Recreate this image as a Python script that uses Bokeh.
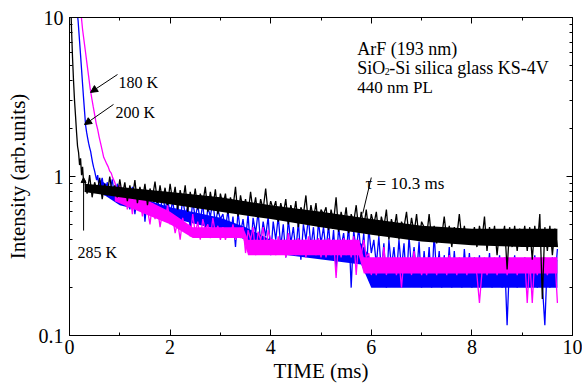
import numpy as np
from bokeh.plotting import figure
from bokeh.models import FixedTicker, LinearAxis, LogAxis, Label, Arrow, NormalHead
from bokeh.embed import file_html
from bokeh.resources import INLINE

# ---------------- data ----------------
STEP = 0.05  # sampling step of the tails (ms)

# 285 K (black)
t_285_early = [0.00, 0.02, 0.04, 0.06, 0.08, 0.10, 0.12, 0.14, 0.16, 0.18, 0.20, 0.22, 0.24, 0.26, 0.28]
i_285_early = [25.0, 14.0, 8.5, 5.6, 4.0, 3.0, 2.4, 1.9, 1.55, 1.42, 1.18, 1.30, 1.02, 1.15, 0.92]
t_285_tail_start = 0.30
i_285_tail = [
    0.95, 0.78, 1.02, 0.74, 0.92, 0.80, 0.98, 0.72, 0.90, 0.76, 1.00, 0.78, 0.88, 0.74, 0.96,
    0.76, 0.92, 0.70, 0.88, 0.74, 0.95, 0.68, 0.86, 0.72, 0.90, 0.66, 0.84, 0.74, 0.93, 0.68, 0.88, 0.70, 0.85, 0.66, 0.90,
    0.70, 0.86, 0.62, 0.82, 0.68, 0.88, 0.60, 0.80, 0.66, 0.84, 0.62, 0.78, 0.68, 0.86, 0.60, 0.80, 0.64, 0.83, 0.58, 0.78,
    0.66, 0.78, 0.58, 0.74, 0.64, 0.86, 0.56, 0.76, 0.62, 0.72, 0.58, 0.80, 0.60, 0.74, 0.55, 0.72, 0.62, 0.84, 0.58, 0.70,
    0.62, 0.70, 0.52, 0.68, 0.58, 0.72, 0.50, 0.66, 0.56, 0.70, 0.48, 0.64, 0.58, 0.76, 0.50, 0.66, 0.54, 0.68, 0.48, 0.62,
    0.58, 0.64, 0.46, 0.62, 0.52, 0.74, 0.45, 0.60, 0.50, 0.64, 0.44, 0.58, 0.52, 0.66, 0.46, 0.60, 0.48, 0.62, 0.44, 0.58,
    0.50, 0.60, 0.42, 0.56, 0.48, 0.62, 0.40, 0.54, 0.46, 0.58, 0.40, 0.52, 0.48, 0.60, 0.42, 0.55, 0.44, 0.58, 0.40, 0.52,
    0.48, 0.42, 0.58, 0.40, 0.49, 0.38, 0.48, 0.42, 0.56, 0.40, 0.49, 0.36, 0.48, 0.42, 0.58, 0.40, 0.49, 0.38, 0.46, 0.40,
    0.48, 0.36, 0.49, 0.40, 0.56, 0.34, 0.48, 0.38, 0.49, 0.32, 0.46, 0.40, 0.49, 0.26, 0.48, 0.36, 0.49, 0.34, 0.47, 0.38,
    0.49, 0.34, 0.48, 0.30, 0.49, 0.36, 0.58, 0.17, 0.48, 0.34, 0.49, 0.32, 0.47, 0.36,
]
# solid core of the 285 K trace
band_285_t = [0.3, 1.0, 2.0, 3.0, 4.0, 5.0, 6.0, 7.0, 8.0, 9.0, 9.7]
band_285_lo = [0.80, 0.74, 0.67, 0.60, 0.54, 0.48, 0.43, 0.39, 0.37, 0.36, 0.36]
band_285_hi = [0.90, 0.86, 0.80, 0.74, 0.66, 0.60, 0.54, 0.49, 0.47, 0.47, 0.47]

# 200 K (blue)
t_200_early = [0.15, 0.17, 0.20, 0.22, 0.24, 0.26, 0.28, 0.30, 0.32, 0.34, 0.36, 0.38, 0.40, 0.42, 0.44,
               0.46, 0.48, 0.50, 0.52, 0.54, 0.56, 0.58]
i_200_early = [11.0, 9.6, 7.1, 5.8, 4.7, 3.8, 3.1, 2.55, 2.1, 1.9, 1.75, 1.62, 1.52, 1.44, 1.32,
               1.22, 1.14, 1.08, 1.01, 0.95, 1.02, 0.90]
t_200_tail_start = 0.60
i_200_tail = [
    0.86, 0.98, 0.76, 0.92, 0.80, 0.96, 0.72, 0.90, 0.78,
    0.84, 0.66, 0.80, 0.62, 0.86, 0.58, 0.78, 0.64, 0.82, 0.52, 0.76, 0.62, 0.80, 0.60, 0.74, 0.56, 0.78, 0.62, 0.72, 0.58,
    0.70, 0.56, 0.66, 0.52, 0.72, 0.58, 0.64, 0.48, 0.70, 0.55, 0.66, 0.52, 0.68, 0.44, 0.64, 0.56, 0.70, 0.50, 0.62, 0.54,
    0.58, 0.46, 0.62, 0.42, 0.56, 0.36, 0.60, 0.44, 0.54, 0.40, 0.58, 0.34, 0.55, 0.44, 0.60, 0.38, 0.52, 0.42, 0.56, 0.32,
    0.52, 0.40, 0.56, 0.36, 0.50, 0.31, 0.54, 0.38, 0.48, 0.34, 0.52, 0.30, 0.50, 0.40, 0.55, 0.36, 0.48, 0.31, 0.52, 0.38,
    0.48, 0.34, 0.50, 0.31, 0.46, 0.26, 0.48, 0.36, 0.44, 0.32, 0.50, 0.20, 0.46, 0.34, 0.48, 0.31, 0.44, 0.25, 0.47, 0.33,
    0.40, 0.28, 0.42, 0.25, 0.38, 0.20, 0.40, 0.27, 0.36, 0.24, 0.40, 0.26, 0.38, 0.21, 0.42, 0.26, 0.36, 0.24, 0.39, 0.20,
    0.34, 0.22, 0.36, 0.20, 0.44, 0.23, 0.34, 0.20, 0.32, 0.22, 0.36, 0.20, 0.34, 0.21, 0.30, 0.20, 0.35, 0.22, 0.33, 0.20,
    0.31, 0.21, 0.32, 0.20, 0.30, 0.22, 0.33, 0.20, 0.30, 0.21, 0.32, 0.20, 0.31, 0.116, 0.30, 0.21, 0.32, 0.20, 0.30, 0.22,
    0.31, 0.20, 0.30, 0.21, 0.32, 0.20, 0.30, 0.21, 0.116, 0.30, 0.20, 0.31, 0.22, 0.35,
]
band_200_t = [0.6, 1.0, 2.0, 3.0, 3.5, 4.0, 5.8, 6.0, 9.7]
band_200_lo = [0.80, 0.66, 0.55, 0.46, 0.40, 0.33, 0.28, 0.20, 0.20]
band_200_hi = [0.95, 0.80, 0.64, 0.55, 0.48, 0.40, 0.38, 0.30, 0.30]

# 180 K (magenta)
t_180_early = [0.23, 0.26, 0.29, 0.32, 0.35, 0.38, 0.41, 0.44, 0.47, 0.50, 0.53, 0.56, 0.59, 0.62,
               0.65, 0.68, 0.71, 0.74, 0.77, 0.80, 0.83, 0.86]
i_180_early = [10.5, 8.4, 7.1, 6.0, 5.05, 4.27, 3.6, 3.14, 2.77, 2.45, 2.16, 1.98, 1.77, 1.61,
               1.46, 1.32, 1.26, 1.20, 1.15, 1.08, 1.05, 0.98]
t_180_tail_start = 0.90
i_180_tail = [
    0.92, 0.80, 0.88,
    0.72, 0.84, 0.62, 0.78, 0.58, 0.80, 0.64, 0.74, 0.56, 0.76,
    0.62, 0.50, 0.68, 0.54, 0.64, 0.48, 0.60, 0.52, 0.66, 0.50,
    0.56, 0.44, 0.52, 0.40, 0.55, 0.46, 0.50, 0.42, 0.58, 0.44, 0.52, 0.40, 0.54, 0.46, 0.50, 0.41, 0.55, 0.44, 0.49, 0.40,
    0.48, 0.40, 0.46, 0.42, 0.50, 0.40, 0.47, 0.41, 0.48, 0.33, 0.46, 0.40, 0.48, 0.32, 0.45, 0.40, 0.48, 0.33, 0.46, 0.40,
    0.40, 0.32, 0.42, 0.34, 0.40, 0.31, 0.44, 0.33, 0.40, 0.32, 0.41, 0.34, 0.40, 0.31, 0.42, 0.33, 0.40, 0.32, 0.41, 0.31,
    0.40, 0.31, 0.41, 0.32, 0.40, 0.23, 0.40, 0.31, 0.41, 0.32, 0.40, 0.31, 0.42, 0.24, 0.40, 0.32, 0.40, 0.31, 0.33, 0.24,
    0.30, 0.24, 0.31, 0.25, 0.36, 0.24, 0.30, 0.25, 0.31, 0.24, 0.30, 0.20, 0.31, 0.25, 0.30, 0.24, 0.34, 0.25, 0.31, 0.24,
    0.30, 0.24, 0.31, 0.25, 0.30, 0.24, 0.31, 0.26, 0.30, 0.24, 0.32, 0.25, 0.30, 0.24, 0.31, 0.25, 0.30, 0.24, 0.31, 0.25,
    0.30, 0.24, 0.16, 0.25, 0.31, 0.24, 0.30, 0.25, 0.31, 0.24, 0.30, 0.26, 0.31, 0.24, 0.30, 0.25, 0.31, 0.24, 0.30, 0.25,
    0.31, 0.16, 0.30, 0.16, 0.31, 0.24, 0.30, 0.25, 0.31, 0.24, 0.30, 0.25, 0.31, 0.16,
]
band_180_t = [0.9, 1.5, 2.0, 2.45, 3.45, 3.55, 5.75, 5.85, 9.7]
band_180_lo = [0.70, 0.58, 0.50, 0.41, 0.41, 0.32, 0.32, 0.245, 0.245]
band_180_hi = [0.85, 0.72, 0.60, 0.48, 0.48, 0.40, 0.40, 0.31, 0.31]

x_major = [0, 2, 4, 6, 8, 10]
x_minor = [1, 3, 5, 7, 9]
y_major = [0.1, 1, 10]
y_minor = [0.2, 0.3, 0.4, 0.5, 0.6, 0.7, 0.8, 0.9, 2, 3, 4, 5, 6, 7, 8, 9]
y_labels = {0.1: "0.1", 1: "1", 10: "10"}


def tail_times(start, tail):
    return [round(start + STEP * k, 4) for k in range(len(tail))]


FONT = "Liberation Serif"

p = figure(width=582, height=390, x_range=(0, 10), y_range=(0.1, 10), y_axis_type="log",
           output_backend="svg", toolbar_location=None,
           min_border_left=69, min_border_top=17, min_border_right=10, min_border_bottom=55,
           background_fill_color="white", border_fill_color="white")
p.grid.visible = False
p.outline_line_color = "black"
p.outline_line_width = 1

curves = [
    (t_200_early, i_200_early, t_200_tail_start, i_200_tail, band_200_t, band_200_lo, band_200_hi, "#0000ff"),
    (t_180_early, i_180_early, t_180_tail_start, i_180_tail, band_180_t, band_180_lo, band_180_hi, "#ff00ff"),
    (t_285_early, i_285_early, t_285_tail_start, i_285_tail, band_285_t, band_285_lo, band_285_hi, "#000000"),
]
for te, ie, ts, it, bt, blo, bhi, col in curves:
    tt = tail_times(ts, it)
    p.varea(x=bt, y1=blo, y2=bhi, fill_color=col)
    p.line(list(te) + tt, list(ie) + it, line_color=col, line_width=1.3)


def style_ticks(ax):
    ax.axis_line_color = "black"
    ax.axis_line_width = 1
    ax.major_tick_in = 6
    ax.major_tick_out = 0
    ax.minor_tick_in = 3
    ax.minor_tick_out = 0
    ax.major_tick_line_color = "black"
    ax.minor_tick_line_color = "black"


def style_labels(ax):
    ax.major_label_text_font = FONT
    ax.major_label_text_color = "black"
    ax.major_label_text_font_size = "20px"
    ax.axis_label_text_font = FONT
    ax.axis_label_text_font_style = "normal"
    ax.axis_label_text_font_size = "21px"
    ax.axis_label_text_color = "black"


bx = p.xaxis[0]
bx.ticker = FixedTicker(ticks=x_major, minor_ticks=x_minor)
style_ticks(bx)
style_labels(bx)
bx.axis_label = "TIME (ms)"
bx.major_label_standoff = 4
bx.axis_label_standoff = 2

ly = p.yaxis[0]
ly.ticker = FixedTicker(ticks=y_major, minor_ticks=y_minor)
style_ticks(ly)
style_labels(ly)
ly.major_label_overrides = y_labels
ly.axis_label = "Intensity (arb.units)"
ly.major_label_standoff = 6
ly.axis_label_standoff = 6

tx = LinearAxis(ticker=FixedTicker(ticks=x_major, minor_ticks=x_minor))
style_ticks(tx)
tx.major_label_text_font_size = "1px"
tx.major_label_text_alpha = 0
tx.major_label_standoff = 0
tx.major_label_overrides = {v: " " for v in x_major}
p.add_layout(tx, "above")

ry = LogAxis(ticker=FixedTicker(ticks=y_major, minor_ticks=y_minor))
style_ticks(ry)
ry.major_label_text_font_size = "1px"
ry.major_label_text_alpha = 0
ry.major_label_standoff = 0
ry.major_label_overrides = {v: " " for v in y_major}
p.add_layout(ry, "right")


def label(x, y, text, size, dx=0, dy=0):
    p.add_layout(Label(x=x, y=y, text=text, x_offset=dx, y_offset=dy,
                       text_font=FONT, text_font_size=size, text_color="black",
                       text_align="left", text_baseline="alphabetic"))


label(0.974, 3.90, "180 K", "16px")
label(0.915, 2.53, "200 K", "16px")
label(0.16, 0.333, "285 K", "16px")
label(5.72, 6.38, "ArF (193 nm)", "18px")
label(5.72, 4.78, "SiO", "18px")
label(5.72, 4.78, "2", "10px", dx=27.5, dy=-3.5)
label(5.72, 4.78, "-Si silica glass KS-4V", "18px", dx=32)
label(5.72, 3.63, "440 nm PL", "17px")
label(5.885, 0.904, "\u03c4 = 10.3 ms", "17px")

p.add_layout(Arrow(x_start=0.954, y_start=4.38, x_end=0.418, y_end=3.38, line_width=1,
                   end=NormalHead(size=7, fill_color="black", line_color="black")))
p.add_layout(Arrow(x_start=0.875, y_start=2.84, x_end=0.298, y_end=2.12, line_width=1,
                   end=NormalHead(size=7, fill_color="black", line_color="black")))
p.add_layout(Arrow(x_start=0.28, y_start=0.457, x_end=0.28, y_end=0.985, line_width=1,
                   end=NormalHead(size=5, fill_color="black", line_color="black")))
p.add_layout(Arrow(x_start=6.0, y_start=0.985, x_end=5.83, y_end=0.585, line_width=1, end=None))

open("out.html", "w").write(file_html(p, INLINE))
